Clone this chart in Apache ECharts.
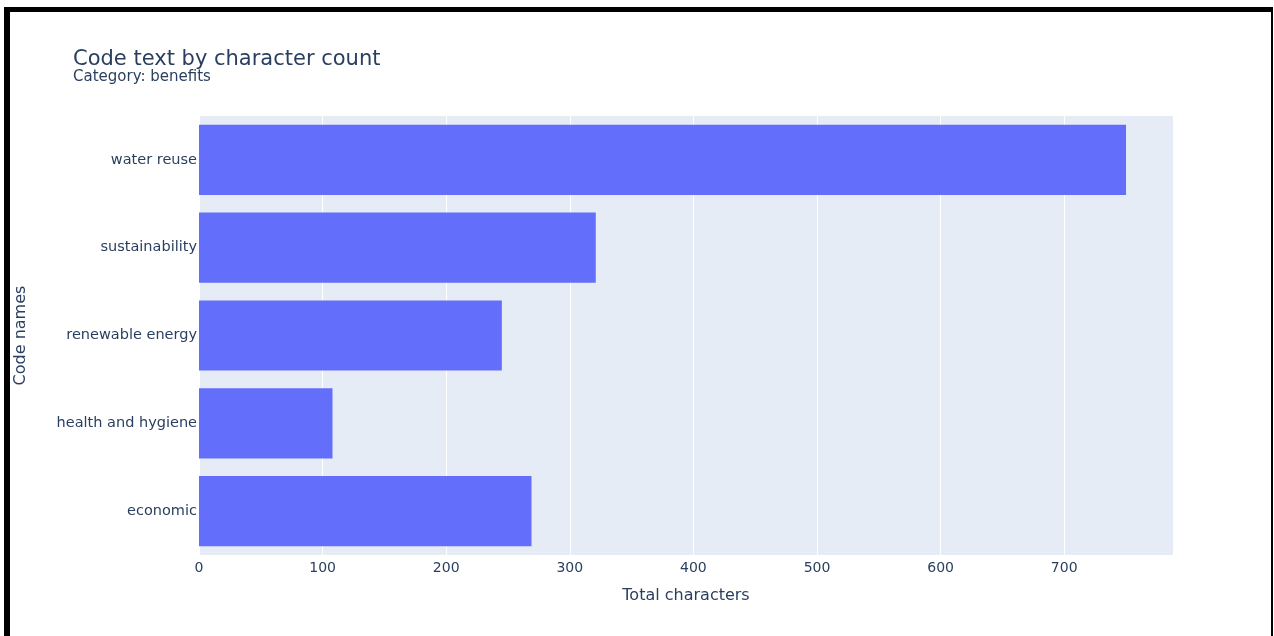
<!DOCTYPE html>
<html>
<head>
<meta charset="utf-8">
<script src="https://cdn.jsdelivr.net/npm/echarts@6/dist/echarts.min.js"></script>
<style>
  html, body { margin: 0; padding: 0; background: #fff; }
  #frame {
    position: absolute; left: 4px; top: 7px; width: 1261px; height: 629px;
    border-left: 6px solid #000; border-top: 5px solid #000; border-right: 2px solid #000;
  }
  #chart { position: absolute; left: 0; top: 0; width: 1274px; height: 636px; }
</style>
</head>
<body>
<div id="frame"></div>
<div id="chart"></div>
<script>
// bottom to top, as echarts draws category axes
var codeNames = ['economic', 'health and hygiene', 'renewable energy', 'sustainability', 'water reuse'];
var totalChars = [269, 108, 245, 321, 750];
var xTicks = [0, 100, 200, 300, 400, 500, 600, 700];

var txt = '#2a3f5f';
var myChart = echarts.init(document.getElementById('chart'));
var option = {
    textStyle: { fontFamily: 'DejaVu Sans' },
    title: {
        text: 'Code text by character count',
        subtext: 'Category: benefits',
        left: 68,
        top: 44,
        itemGap: 0,
        textStyle: { fontSize: 21, color: txt, fontWeight: 'normal', fontFamily: 'DejaVu Sans' },
        subtextStyle: { fontSize: 15, color: txt, fontFamily: 'DejaVu Sans' }
    },
    grid: {
        left: 199,
        right: 101,
        top: 116,
        bottom: 81,
        show: true,
        backgroundColor: '#E5ECF6',
        borderWidth: 0
    },
    xAxis: {
        type: 'value',
        min: 0,
        max: 788,
        interval: 100,
        name: 'Total characters',
        nameLocation: 'middle',
        nameGap: 33,
        nameTextStyle: { fontSize: 16, color: txt },
        axisLine: { show: false },
        axisTick: { show: false },
        axisLabel: {
            fontSize: 14,
            color: txt,
            margin: 6,
            showMaxLabel: false,
            formatter: function (v) { return xTicks.indexOf(v) >= 0 ? v : ''; }
        },
        splitLine: { show: true, lineStyle: { color: '#ffffff', width: 1 } }
    },
    yAxis: {
        type: 'category',
        data: codeNames,
        name: 'Code names',
        nameLocation: 'middle',
        nameGap: 170,
        nameRotate: 90,
        nameTextStyle: { fontSize: 16, color: txt },
        axisLine: { show: false },
        axisTick: { show: false },
        axisLabel: { fontSize: 14.5, color: txt, margin: 2, padding: [3, 0, 0, 0] },
        splitLine: { show: false }
    },
    series: [{
        type: 'bar',
        data: totalChars,
        barCategoryGap: '20%',
        itemStyle: { color: '#636efa' },
        silent: true
    }]
};
myChart.setOption(option);
</script>
</body>
</html>
